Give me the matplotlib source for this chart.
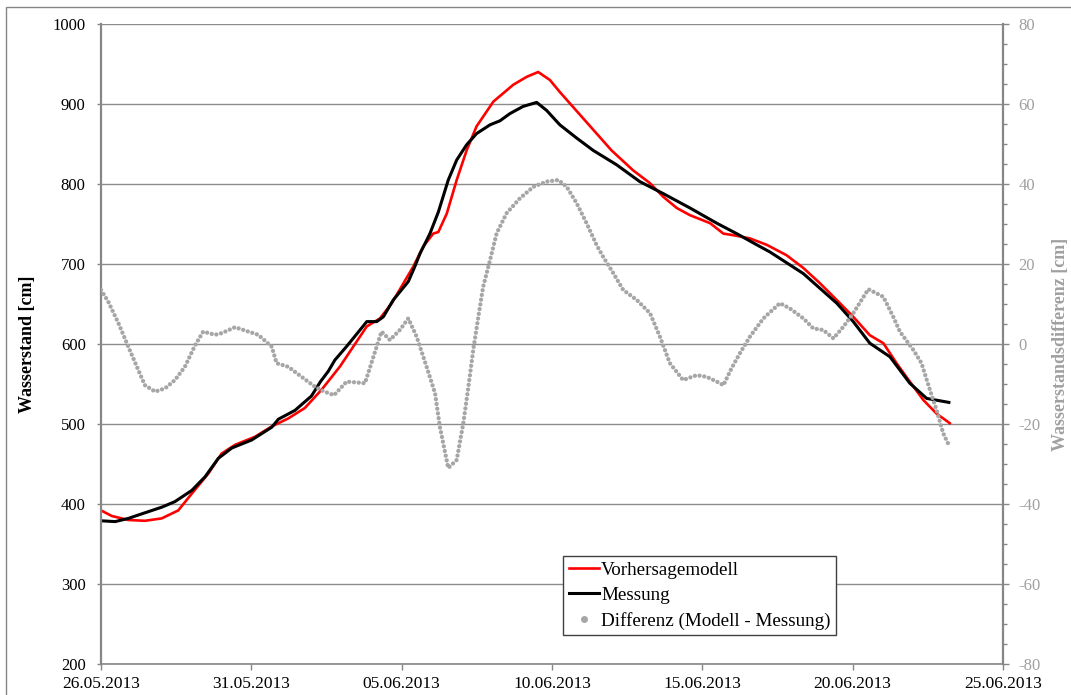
import matplotlib.pyplot as plt
import matplotlib.patches as patches
from matplotlib.lines import Line2D
from matplotlib.ticker import MultipleLocator

# Zeit in Tagen ab 26.05.2013 00:00
t_modell = [0, 0.36, 0.91, 1.46, 2.02, 2.57, 3.02, 3.57, 4.01, 4.46, 5.12, 5.68, 6.23, 6.78,
            7.34, 7.95, 8.84, 9.28, 9.67, 10.39, 10.72, 11.05, 11.22, 11.5, 11.83, 12.16,
            12.49, 13.05, 13.71, 14.16, 14.54, 14.93, 15.26, 16.98, 17.7, 18.26, 18.7,
            19.15, 19.59, 20.26, 20.7, 21.03, 21.58, 22.14, 22.8, 23.36, 23.91, 24.47,
            25.02, 25.57, 26.02, 26.46, 26.9, 27.35, 27.79, 28.23]
modell = [392, 385, 380, 379, 382, 392, 413, 438, 463, 474, 484, 497, 507, 520,
          543, 572, 622, 632, 651, 697, 722, 738, 740, 763, 805, 842,
          872, 903, 924, 934, 940, 930, 915, 842, 817, 801, 784,
          770, 761, 751, 738, 736, 732, 724, 711, 695, 676, 655,
          634, 611, 601, 576, 553, 530, 513, 501]

t_messung = [0, 0.47, 0.91, 1.46, 2.02, 2.46, 3.02, 3.46, 3.9, 4.35, 5.01, 5.68, 5.9, 6.45,
             7.0, 7.3, 7.56, 7.78, 8.17, 8.84, 9.17, 9.39, 9.72, 10.22, 10.44, 10.61, 10.94,
             11.22, 11.55, 11.83, 12.16, 12.49, 12.94, 13.27, 13.6, 14.04, 14.49, 14.82,
             15.26, 15.8, 16.37, 17.15, 17.92, 18.7, 19.59, 20.48, 21.14, 21.81, 22.25,
             23.36, 24.47, 25.02, 25.57, 26.24, 26.9, 27.46, 28.2]
messung = [379, 378, 382, 389, 396, 403, 417, 434, 457, 470, 480, 496, 506, 517,
           535, 553, 566, 580, 597, 628, 628, 634, 655, 678, 697, 713, 738,
           765, 805, 830, 849, 863, 874, 879, 888, 897, 902, 892,
           874, 858, 842, 824, 803, 788, 770, 751, 738, 724, 715,
           688, 651, 628, 601, 584, 551, 532, 527]

t_diff = [0, 0.24, 0.58, 0.91, 1.24, 1.46, 1.8, 2.13, 2.46, 2.79, 3.13, 3.4, 3.79, 4.01,
          4.46, 4.9, 5.23, 5.68, 5.84, 6.23, 6.67, 7.12, 7.4, 7.75, 8.17, 8.78, 9.06,
          9.33, 9.61, 9.94, 10.22, 10.5, 10.83, 11.11, 11.27, 11.55, 11.83, 12.05, 12.22,
          12.38, 12.55, 12.71, 12.94, 13.16, 13.49, 13.93, 14.38, 14.82, 15.21, 15.49,
          15.82, 16.15, 16.48, 16.7, 17.04, 17.37, 17.82, 18.26, 18.59, 18.92, 19.36,
          19.81, 20.14, 20.48, 20.7, 20.97, 21.25, 21.58, 22.03, 22.58, 22.91, 23.36,
          23.69, 24.02, 24.36, 24.69, 25.02, 25.52, 26.02, 26.35, 26.57, 27.02, 27.29,
          27.57, 27.79, 28.01, 28.2]
diff = [13.5, 10.6, 5.2, -0.7, -6.5, -10.3, -11.9, -11.1, -9.0, -5.7, -0.3, 3.1, 2.3, 2.7,
        4.2, 3.1, 2.3, -0.7, -4.8, -5.7, -8.2, -10.7, -11.8, -12.8, -9.4, -9.8, -3.2,
        3.1, 1.0, 3.5, 6.4, 1.8, -5.7, -12.3, -20.7, -31.0, -29.0, -19.8, -10.7,
        -1.5, 6.8, 14.3, 21.0, 27.7, 32.7, 36.4, 39.3, 40.6, 41.0, 39.3,
        35.2, 30.2, 24.8, 21.8, 17.7, 13.5, 11.0, 7.7, 1.8, -4.8, -9.0,
        -7.8, -8.2, -9.4, -10.3, -6.1, -2.3, 1.8, 6.4, 10.2, 8.9, 6.4,
        3.9, 3.5, 1.4, 4.3, 7.7, 13.7, 11.8, 6.8, 3.1, -1.5, -4.8,
        -11.5, -16.5, -22.3, -25.3]

datum_ticks = [0, 5, 10, 15, 20, 25, 30]
datum_labels = ['26.05.2013', '31.05.2013', '05.06.2013', '10.06.2013',
                '15.06.2013', '20.06.2013', '25.06.2013']

plt.rcParams['font.family'] = ['Liberation Serif', 'DejaVu Serif']
plt.rcParams['axes.unicode_minus'] = False

W, H = 1071, 695
fig = plt.figure(figsize=(W / 100, H / 100), dpi=100)
ax = fig.add_axes([101 / W, 1 - 664 / H, (1003 - 101) / W, (664 - 24) / H])
ax2 = ax.twinx()

achse = '#868686'
grau = '#a6a6a6'

# Linien
l1, = ax.plot(t_modell, modell, color='#ff0000', lw=1.9, solid_joinstyle='round')
l2, = ax.plot(t_messung, messung, color='black', lw=2.2, solid_joinstyle='round')
ax2.plot(t_diff, diff, color=grau, lw=3.1, linestyle=(0, (0.01, 1.1)),
         dash_capstyle='round')
l3 = Line2D([], [], color=grau, marker='o', markersize=4, linestyle='none')

ax.set_xlim(0, 30)
ax.set_ylim(200, 1000)
ax2.set_ylim(-80, 80)
ax.set_xticks(datum_ticks)
ax.set_xticklabels(datum_labels)
ax.set_yticks(range(200, 1001, 100))
ax2.set_yticks(range(-80, 81, 20))
ax2.yaxis.set_minor_locator(MultipleLocator(5))

ax.grid(axis='y', color='#8c8c8c', lw=1)
ax.set_axisbelow(True)

for s in ['top', 'right']:
    ax.spines[s].set_visible(False)
for s in ['top', 'left', 'bottom']:
    ax2.spines[s].set_visible(False)
ax.spines['left'].set_color(achse)
ax.spines['left'].set_linewidth(1.6)
ax.spines['bottom'].set_color(achse)
ax.spines['bottom'].set_linewidth(1.2)
ax2.spines['right'].set_color(achse)
ax2.spines['right'].set_linewidth(1.6)

ax.tick_params(axis='y', direction='out', length=3, width=1, color=achse,
               labelsize=12, pad=8)
ax.tick_params(axis='x', direction='out', length=4, width=1, color=achse,
               labelsize=12.5, pad=5)
ax2.tick_params(axis='y', which='major', direction='out', length=4, width=1,
                color=achse, labelcolor='#a0a0a0', labelsize=12, pad=7)
ax2.tick_params(axis='y', which='minor', direction='out', length=3, width=1,
                color=achse)

ax.set_ylabel('Wasserstand [cm]', fontsize=13, fontweight='bold')
ax.yaxis.set_label_coords(-0.072, 0.5)
ax2.set_ylabel('Wasserstandsdifferenz [cm]', fontsize=13, fontweight='bold',
               color='#a0a0a0', rotation=90)
ax2.yaxis.set_label_coords(1.054, 0.5)

leg = ax2.legend([l1, l2, l3],
                 ['Vorhersagemodell', 'Messung', 'Differenz (Modell - Messung)'],
                 loc='upper left', bbox_to_anchor=(563 / W, 1 - 556 / H),
                 bbox_transform=fig.transFigure, fontsize=13.7, frameon=True,
                 fancybox=False, edgecolor='#404040', framealpha=1,
                 borderpad=0.3, handlelength=1.6, handletextpad=0.1,
                 labelspacing=0.4, borderaxespad=0)
leg.get_frame().set_linewidth(1)

# Rahmen um das Diagramm
fig.patches.append(patches.Rectangle((6 / W, -0.1), 2, 1 - 7 / H + 0.1,
                                     transform=fig.transFigure, fill=False,
                                     edgecolor=achse, lw=1))

fig.savefig('out.png', dpi=100)
